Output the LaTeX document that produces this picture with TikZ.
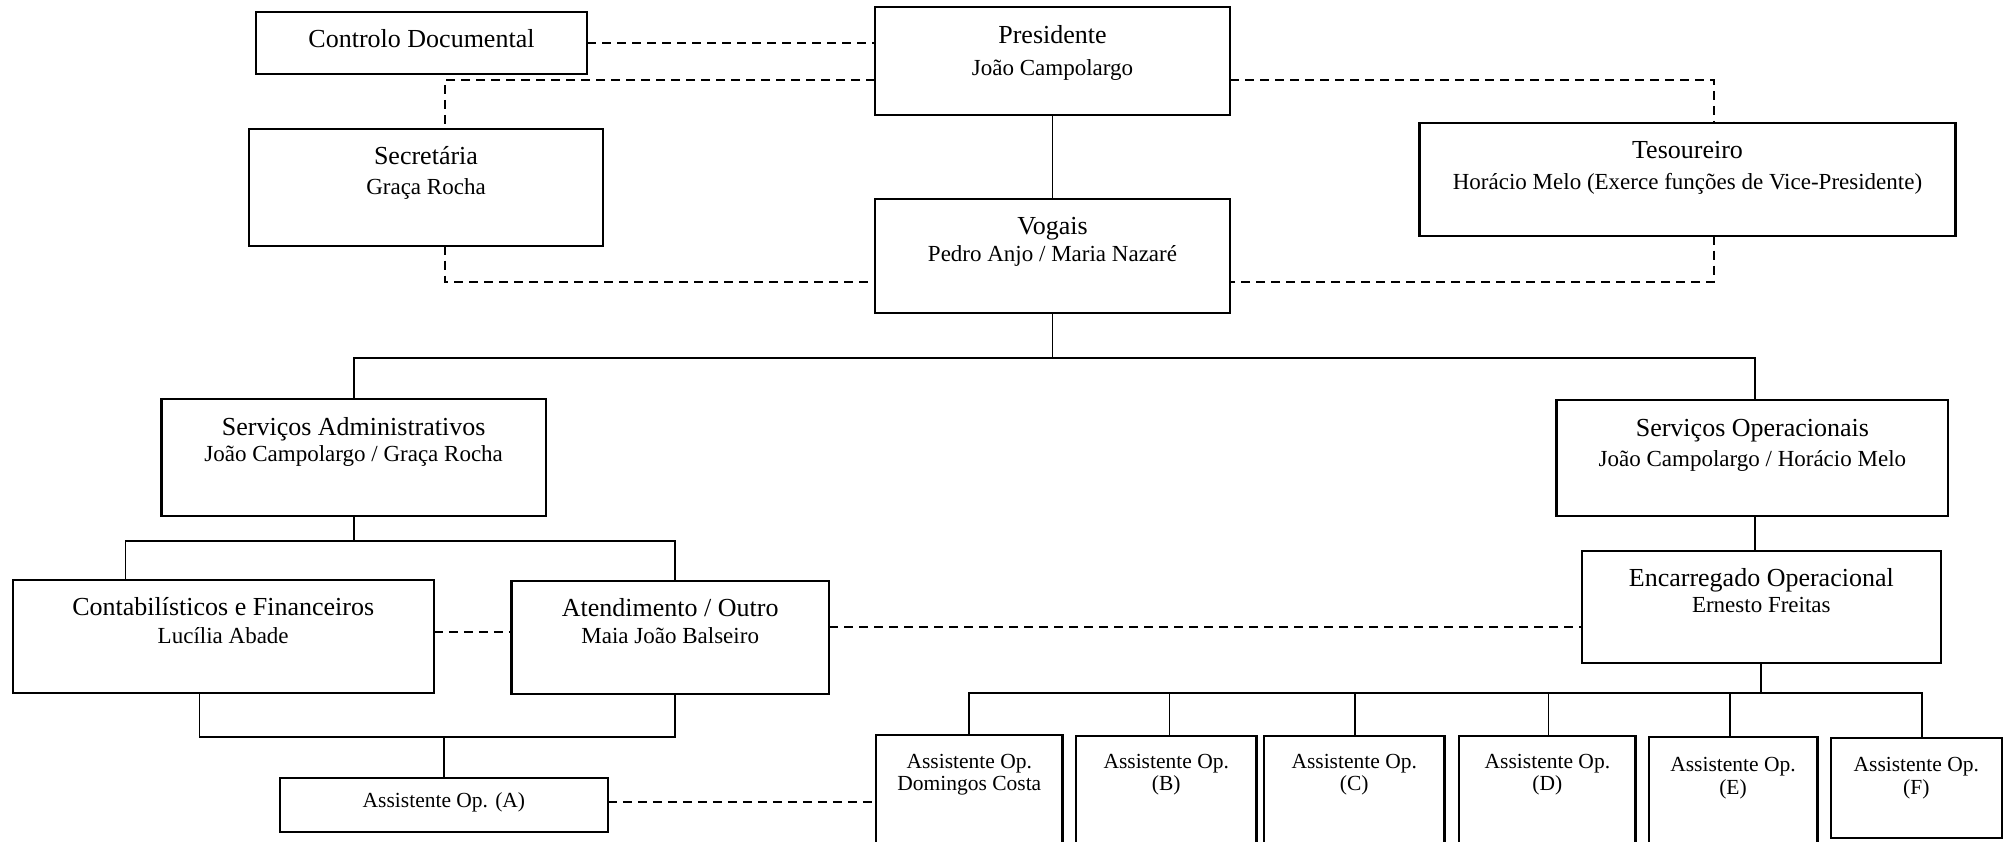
\documentclass[tikz,border=0pt]{standalone}
\usepackage{fontspec}
\setmainfont{Liberation Serif}
\tikzset{
  box/.style={draw, line width=2.3pt, inner sep=0pt, outer sep=0pt, anchor=north west},
  conn/.style={line width=1.7pt},
  dline/.style={line width=1.9pt, dash pattern=on 9pt off 6pt},
  tA/.style={font=\fontsize{26}{30}\selectfont, inner sep=0pt, anchor=base},
  tB/.style={font=\fontsize{23}{27}\selectfont, inner sep=0pt, anchor=base},
  tC/.style={font=\fontsize{21.5}{25}\selectfont, inner sep=0pt, anchor=base},
}
\begin{document}
\begin{tikzpicture}[x=1pt, y=-1pt]
\useasboundingbox (0,0) rectangle (2015,842);
\fill[white] (0,0) rectangle (2015,842);

% helper coordinates (levels and drop positions)
\coordinate (L80) at (0,80);
\coordinate (L281) at (0,281.7);
\coordinate (L358) at (0,358.3);
\coordinate (L540) at (0,540.7);
\coordinate (L626) at (0,626.7);
\coordinate (L631) at (0,631.7);
\coordinate (L692) at (0,692.7);
\coordinate (L736) at (0,736.7);
\coordinate (L801) at (0,801.7);
\coordinate (X445) at (445,0);
\coordinate (X1714) at (1714,0);
\coordinate (X126) at (125.6,0);
\coordinate (X675) at (674.8,0);
\coordinate (X200) at (199.6,0);
\coordinate (X1755) at (1755,0);
\coordinate (XB) at (1169.5,0);
\coordinate (XC) at (1355.2,0);
\coordinate (XD) at (1548.4,0);
\coordinate (XE) at (1729.7,0);
\coordinate (XF) at (1922.1,0);

% boxes
\node[box, minimum width=331pt, minimum height=62.3pt] (ctrl) at (256,11.7) {};
\node[box, minimum width=355pt, minimum height=108.3pt] (pres) at (875,6.7) {};
\node[box, minimum width=354pt, minimum height=116.7pt] (sec) at (249,129) {};
\node[box, minimum width=536pt, minimum height=112.7pt] (tes) at (1419.5,123) {};
\node[box, minimum width=355pt, minimum height=114pt] (vog) at (875,199) {};
\node[box, minimum width=384.6pt, minimum height=116.7pt] (sa) at (161.4,399) {};
\node[box, minimum width=391.6pt, minimum height=115.7pt] (so) at (1556.6,400.3) {};
\node[box, minimum width=421pt, minimum height=113.6pt] (cf) at (12.8,579.7) {};
\node[box, minimum width=317.5pt, minimum height=113.3pt] (at) at (511.5,580.7) {};
\node[box, minimum width=358.8pt, minimum height=112pt] (enc) at (1581.9,551.3) {};
\node[box, minimum width=327.8pt, minimum height=54pt] (aA) at (280,777.7) {};
\node[box, minimum width=186.5pt, minimum height=130pt] (a1) at (876,735) {};
\node[box, minimum width=180.5pt, minimum height=130pt] (aB) at (1075.9,735.7) {};
\node[box, minimum width=180.5pt, minimum height=130pt] (aC) at (1263.9,735.7) {};
\node[box, minimum width=176.1pt, minimum height=130pt] (aD) at (1459.3,735.7) {};
\node[box, minimum width=168.7pt, minimum height=130pt] (aE) at (1648.7,737.3) {};
\node[box, minimum width=170.9pt, minimum height=100pt] (aF) at (1830.8,738.3) {};

% texts
\node[tA] (ctrlT) at (421.5,47.6) {Controlo Documental};
\node[tA] (presT1) at (1052.5,44) {Presidente};
\node[tB] (presT2) at (1052.5,75.5) {João Campolargo};
\node[tA] (secT1) at (426,165) {Secretária};
\node[tB] (secT2) at (426,195) {Graça Rocha};
\node[tA] (tesT1) at (1687.5,158.3) {Tesoureiro};
\node[tB] (tesT2) at (1687.5,189.3) {Horácio Melo (Exerce funções de Vice-Presidente)};
\node[tA] (vogT1) at (1052.5,235) {Vogais};
\node[tB] (vogT2) at (1052.5,261.7) {Pedro Anjo / Maria Nazaré};
\node[tA] (saT1) at (353.7,435) {Serviços Administrativos};
\node[tB] (saT2) at (353.7,461) {João Campolargo / Graça Rocha};
\node[tA] (soT1) at (1752.4,436.7) {Serviços Operacionais};
\node[tB] (soT2) at (1752.4,466.7) {João Campolargo / Horácio Melo};
\node[tA] (cfT1) at (223.2,615) {Contabilísticos e Financeiros};
\node[tB] (cfT2) at (223.2,643.3) {Lucília Abade};
\node[tA] (atT1) at (670.2,616.7) {Atendimento / Outro};
\node[tB] (atT2) at (670.2,643.3) {Maia João Balseiro};
\node[tA] (encT1) at (1761.3,586.7) {Encarregado Operacional};
\node[tB] (encT2) at (1761.3,612.7) {Ernesto Freitas};
\node[tC] (aAT) at (443.9,807.5) {Assistente Op. (A)};
\node[tC] (a1T1) at (969.3,768.3) {Assistente Op.};
\node[tC] (a1T2) at (969.3,790.5) {Domingos Costa};
\node[tC] (aBT1) at (1166.2,768.3) {Assistente Op.};
\node[tC] (aBT2) at (1166.2,790.5) {(B)};
\node[tC] (aCT1) at (1354.2,768.3) {Assistente Op.};
\node[tC] (aCT2) at (1354.2,790.5) {(C)};
\node[tC] (aDT1) at (1547.4,768.3) {Assistente Op.};
\node[tC] (aDT2) at (1547.4,790.5) {(D)};
\node[tC] (aET1) at (1733,771.5) {Assistente Op.};
\node[tC] (aET2) at (1733,794.5) {(E)};
\node[tC] (aFT1) at (1916.3,771.5) {Assistente Op.};
\node[tC] (aFT2) at (1916.3,794.5) {(F)};

% dashed connectors
\draw[dline] (ctrl.east) -- (ctrl.east -| pres.west);
\draw[dline] (pres.west |- L80) -| (X445 |- sec.north);
\draw[dline] (X445 |- sec.south) |- (vog.west |- L281);
\draw[dline] (pres.east |- L80) -| (X1714 |- tes.north);
\draw[dline] (X1714 |- tes.south) |- (vog.east |- L281);
\draw[dline] (cf.east |- L631) -- (at.west |- L631);
\draw[dline] (at.east |- L626) -- (enc.west |- L626);
\draw[dline] (aA.east |- L801) -- (a1.west |- L801);

% solid connectors
\draw[conn] (pres.south) -- (vog.north);
\draw[conn] (vog.south) -- (vog.south |- L358);
\draw[conn] (sa.north) |- (X1755 |- L358) -- (X1755 |- so.north);
\draw[conn] (sa.south) -- (sa.south |- L540);
\draw[conn] (X126 |- cf.north) |- (X675 |- L540) -- (X675 |- at.north);
\draw[conn] (X200 |- cf.south) |- (X675 |- L736) -- (X675 |- at.south);
\draw[conn] (aA.north) -- (aA.north |- L736);
\draw[conn] (X1755 |- so.south) -- (X1755 |- enc.north);
\draw[conn] (enc.south) -- (enc.south |- L692);
\draw[conn] (a1.north) |- (XF |- L692) -- (XF |- aF.north);
\draw[conn] (XB |- L692) -- (XB |- aB.north);
\draw[conn] (XC |- L692) -- (XC |- aC.north);
\draw[conn] (XD |- L692) -- (XD |- aD.north);
\draw[conn] (XE |- L692) -- (XE |- aE.north);
\end{tikzpicture}
\end{document}
